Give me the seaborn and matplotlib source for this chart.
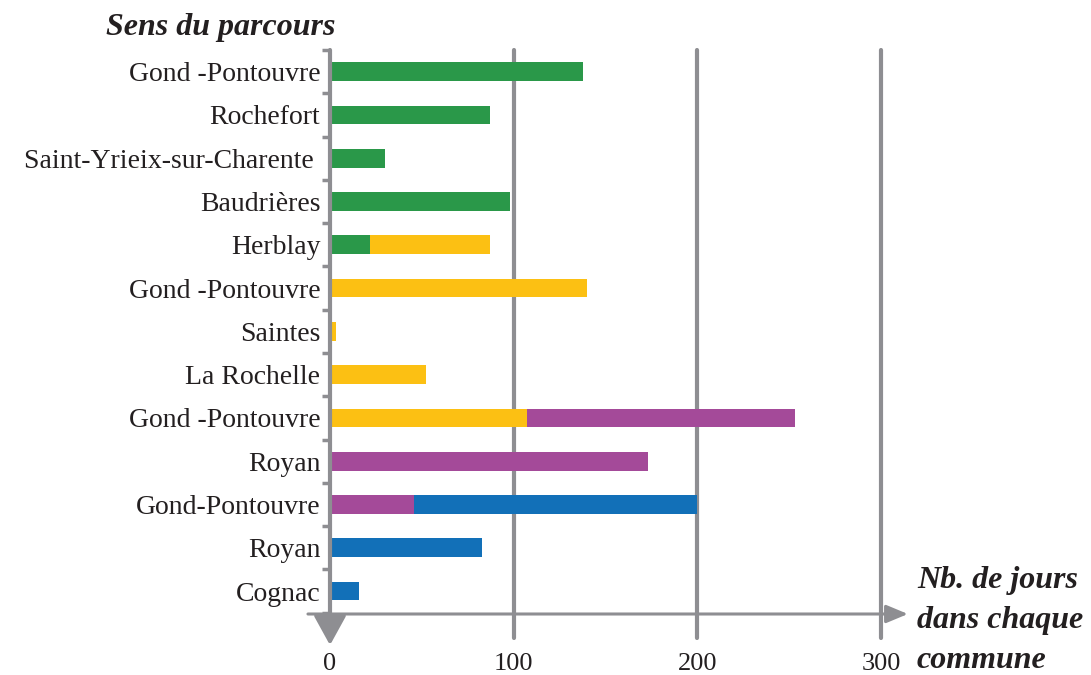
import matplotlib
matplotlib.use("Agg")
import matplotlib.pyplot as plt
import seaborn as sns
import numpy as np
import pandas as pd

# ---- data ----
labels = ["Gond -Pontouvre", "Rochefort", "Saint-Yrieix-sur-Charente ", "Baudrières",
          "Herblay", "Gond -Pontouvre", "Saintes", "La Rochelle", "Gond -Pontouvre",
          "Royan", "Gond-Pontouvre", "Royan", "Cognac"]
green  = [138, 87, 30, 98, 22, 0, 0, 0, 0, 0, 0, 0, 0]
yellow = [0, 0, 0, 0, 65, 140, 3, 52, 107, 0, 0, 0, 0]
purple = [0, 0, 0, 0, 0, 0, 0, 0, 146, 173, 46, 0, 0]
blue   = [0, 0, 0, 0, 0, 0, 0, 0, 0, 0, 154, 83, 16]
xticks = [0, 100, 200, 300]

colors = {"green": "#2A9849", "yellow": "#FCC013", "purple": "#A44A99", "blue": "#1270B8"}
gray = "#8E8E92"
txt = "#231F20"

sns.set_theme(style="white")
plt.rcParams['font.family'] = ['Liberation Serif', 'DejaVu Serif']

rows = [f"r{i}" for i in range(len(labels))]
df = pd.DataFrame({"row": rows, "green": green, "yellow": yellow,
                   "purple": purple, "blue": blue})
df["c_green"] = df["green"]
df["c_yellow"] = df["c_green"] + df["yellow"]
df["c_purple"] = df["c_yellow"] + df["purple"]
df["c_blue"] = df["c_purple"] + df["blue"]

fig = plt.figure(figsize=(10.91, 6.75), dpi=100)
ax = fig.add_axes([330/1091, 1 - 614/675, (917.8-330)/1091, (614-50)/675])

for key in ["blue", "purple", "yellow", "green"]:
    sns.barplot(data=df, x="c_" + key, y="row", order=rows, orient="h",
                color=colors[key], saturation=1, width=0.43, ax=ax, zorder=3,
                linewidth=0, edgecolor="none")

ax.set_xlim(0, 320)
ax.set_ylim(12.53, -0.5)
ax.set_xlabel("")
ax.set_ylabel("")
for s in ax.spines.values():
    s.set_visible(False)

# gridlines
for xv in [100, 200, 300]:
    ax.plot([xv, xv], [-0.5, 13.09], color=gray, lw=3, solid_capstyle="round",
            zorder=1, clip_on=False)

# axes with arrows
ax.annotate("", xy=(0, 13.25), xytext=(0, -0.5),
            arrowprops=dict(arrowstyle="-|>,head_length=0.6,head_width=0.33",
                            color=gray, lw=3, mutation_scale=30, shrinkA=0, shrinkB=0),
            annotation_clip=False, zorder=5)
ax.annotate("", xy=(314.6, 12.53), xytext=(-12, 12.53),
            arrowprops=dict(arrowstyle="-|>,head_length=0.6,head_width=0.25",
                            color=gray, lw=2.2, mutation_scale=22, shrinkA=0, shrinkB=0),
            annotation_clip=False, zorder=5)

# ticks
ax.set_yticks(range(len(labels)))
ax.set_yticklabels(labels, fontsize=20, color=txt)
ax.set_yticks(np.arange(-0.5, len(labels), 1), minor=True)
ax.tick_params(axis="y", which="major", length=0, pad=7)
ax.tick_params(axis="y", which="minor", length=6, width=2.5, color=gray, left=True)
ax.set_xticks(xticks)
ax.set_xticklabels([str(v) for v in xticks], fontsize=19, color=txt)
ax.tick_params(axis="x", length=0, pad=28)

fig.text(335/1091, 1 - 28/675, "Sens du parcours", ha="right", va="center",
         fontsize=23, fontweight="bold", fontstyle="italic", color=txt)
for i, line in enumerate(["Nb. de jours", "dans chaque", "commune"]):
    fig.text(917/1091, 1 - (588 + 40 * i)/675, line, ha="left", va="baseline",
             fontsize=23, fontweight="bold", fontstyle="italic", color=txt)

fig.savefig("out.png", dpi=100)
